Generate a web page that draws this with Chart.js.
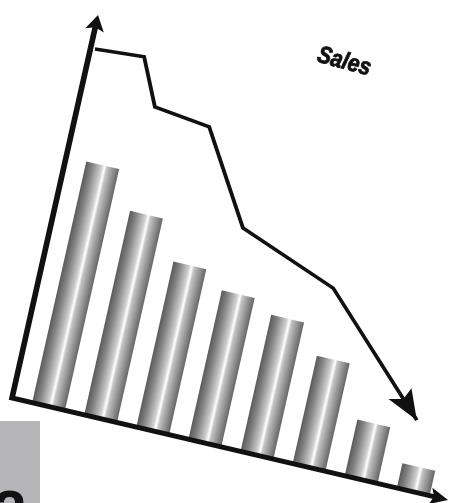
<!DOCTYPE html>
<html lang="en">
<head>
  <meta charset="UTF-8">
  <title>Sales</title>
  <script src="https://cdn.jsdelivr.net/npm/chart.js"></script>
  <style>
    body {
      margin: 0;
      background: #fff;
      width: 450px;
      height: 503px;
      overflow: hidden;
      position: relative;
    }
    canvas {
      position: absolute;
      left: 0;
      top: 0;
    }
    .badge {
      position: absolute;
      left: 0;
      top: 421px;
      width: 40px;
      height: 82px;
      background: #b6b6b8;
      overflow: hidden;
    }
    .badge span {
      position: absolute;
      left: -7px;
      top: 61px;
      font: bold 60px/60px "Liberation Sans", sans-serif;
      color: #111;
    }
  </style>
</head>
<body>

<canvas id="salesChart" width="450" height="503"></canvas>
<div class="badge"><span>2</span></div>

<script>
  // periods along the bottom axis (no tick labels are printed)
  const periods = ['1', '2', '3', '4', '5', '6', '7', '8'];
  // bar heights, percent of the vertical axis
  const barValues = [63, 53.3, 43.2, 38.9, 35.7, 28.2, 14.7, 6.5];
  // sales trend line: position along the bottom axis (%) and height (%)
  const trendX = [1, 12.1, 16.9, 29.7, 42, 64.6, 89.3];
  const trendY = [91.4, 92.3, 80.5, 78.7, 55.6, 45.9, 18];

  // the whole chart is drawn skewed: axis corner, end of x axis, end of y axis (page px)
  const ORIGIN = [12, 398];
  const X_END = [448, 500];
  const Y_END = [98, 15];
  const L = 400;            // unskewed axis length in canvas px
  const U0 = 20, V0 = 450;  // unskewed axis corner in canvas px
  const X_MIN = 2.4, X_MAX = 98; // part of the axis covered by the categories
  const BAR_PCT = 0.63;

  const exx = (X_END[0] - ORIGIN[0]) / L, exy = (X_END[1] - ORIGIN[1]) / L;
  const eyx = (Y_END[0] - ORIGIN[0]) / L, eyy = (Y_END[1] - ORIGIN[1]) / L;
  const skew = [
    exx, exy, -eyx, -eyy,
    ORIGIN[0] - exx * U0 + eyx * V0,
    ORIGIN[1] - exy * U0 + eyy * V0
  ];

  function arrowHead(ctx, x1, y1, x2, y2, len, half) {
    const a = Math.atan2(y2 - y1, x2 - x1);
    ctx.beginPath();
    ctx.moveTo(x2, y2);
    ctx.lineTo(x2 - len * Math.cos(a) + half * Math.sin(a), y2 - len * Math.sin(a) - half * Math.cos(a));
    ctx.lineTo(x2 - len * 0.8 * Math.cos(a), y2 - len * 0.8 * Math.sin(a));
    ctx.lineTo(x2 - len * Math.cos(a) - half * Math.sin(a), y2 - len * Math.sin(a) + half * Math.cos(a));
    ctx.closePath();
    ctx.fill();
  }

  const skewPlugin = {
    id: 'skew',
    beforeDraw(chart) {
      chart.ctx.save();
      chart.ctx.setTransform(...skew);
    },
    beforeDatasetDraw(chart, args) {
      if (args.index !== 0) return;
      // cylinder shading across each bar
      args.meta.data.forEach(el => {
        const g = chart.ctx.createLinearGradient(el.x - el.width / 2, 0, el.x + el.width / 2, 0);
        g.addColorStop(0, '#5a5a5a');
        g.addColorStop(0.2, '#838383');
        g.addColorStop(0.48, '#cfcfcf');
        g.addColorStop(0.57, '#ffffff');
        g.addColorStop(0.64, '#c4c4c4');
        g.addColorStop(0.85, '#8d8d8d');
        g.addColorStop(1, '#666666');
        el.options = Object.assign({}, el.options, { backgroundColor: g });
      });
    },
    afterDatasetsDraw(chart) {
      const ctx = chart.ctx;
      const xs = chart.scales.x2, ys = chart.scales.y;
      const ox = xs.getPixelForValue(0), oy = ys.getPixelForValue(0);
      const xe = xs.getPixelForValue(100), ye = ys.getPixelForValue(100);
      ctx.save();
      ctx.strokeStyle = '#111';
      ctx.fillStyle = '#111';
      ctx.lineWidth = 5;
      ctx.lineJoin = 'miter';
      ctx.beginPath();
      ctx.moveTo(ox, ye + 12);
      ctx.lineTo(ox, oy);
      ctx.lineTo(xe - 12, oy);
      ctx.stroke();
      arrowHead(ctx, ox, oy, ox, ye, 16, 8.5);
      arrowHead(ctx, ox, oy, xe, oy, 16, 8.5);
      // arrow on the end of the sales line
      const pts = chart.getDatasetMeta(1).data;
      const p = pts[pts.length - 2], q = pts[pts.length - 1];
      arrowHead(ctx, p.x, p.y, q.x, q.y, 30, 12);
      ctx.restore();
    },
    afterDraw(chart) {
      const ctx = chart.ctx;
      ctx.restore();
      ctx.save();
      ctx.translate(344, 62);
      ctx.rotate(15 * Math.PI / 180);
      ctx.scale(0.95, 1.1);
      ctx.font = 'italic bold 22px "Liberation Sans", sans-serif';
      ctx.fillStyle = '#111';
      ctx.strokeStyle = '#111';
      ctx.lineWidth = 0.8;
      ctx.textAlign = 'center';
      ctx.textBaseline = 'middle';
      ctx.fillText(chart.data.datasets[1].label, 0, 0);
      ctx.strokeText(chart.data.datasets[1].label, 0, 0);
      ctx.restore();
    }
  };

  new Chart(document.getElementById('salesChart'), {
    type: 'bar',
    data: {
      labels: periods,
      datasets: [{
        label: 'Bars',
        data: barValues,
        backgroundColor: '#999',
        borderWidth: 0,
        grouped: false,
        categoryPercentage: 1,
        barPercentage: BAR_PCT
      }, {
        type: 'line',
        label: 'Sales',
        xAxisID: 'x2',
        data: trendX.map((x, i) => ({ x: x, y: trendY[i] })),
        borderColor: '#111',
        borderWidth: 3.5,
        pointRadius: 0,
        tension: 0,
        clip: false,
        borderJoinStyle: 'miter'
      }]
    },
    options: {
      responsive: false,
      animation: false,
      events: [],
      layout: {
        padding: {
          left: U0 + L * X_MIN / 100,
          right: 450 - (U0 + L * X_MAX / 100),
          top: V0 - L,
          bottom: 503 - V0
        }
      },
      plugins: {
        legend: { display: false },
        tooltip: { enabled: false }
      },
      scales: {
        x: { display: false, offset: true },
        x2: { type: 'linear', display: false, offset: false, grid: { offset: false }, min: X_MIN, max: X_MAX },
        y: { display: false, min: 0, max: 100 }
      }
    },
    plugins: [skewPlugin]
  });
</script>

</body>
</html>
